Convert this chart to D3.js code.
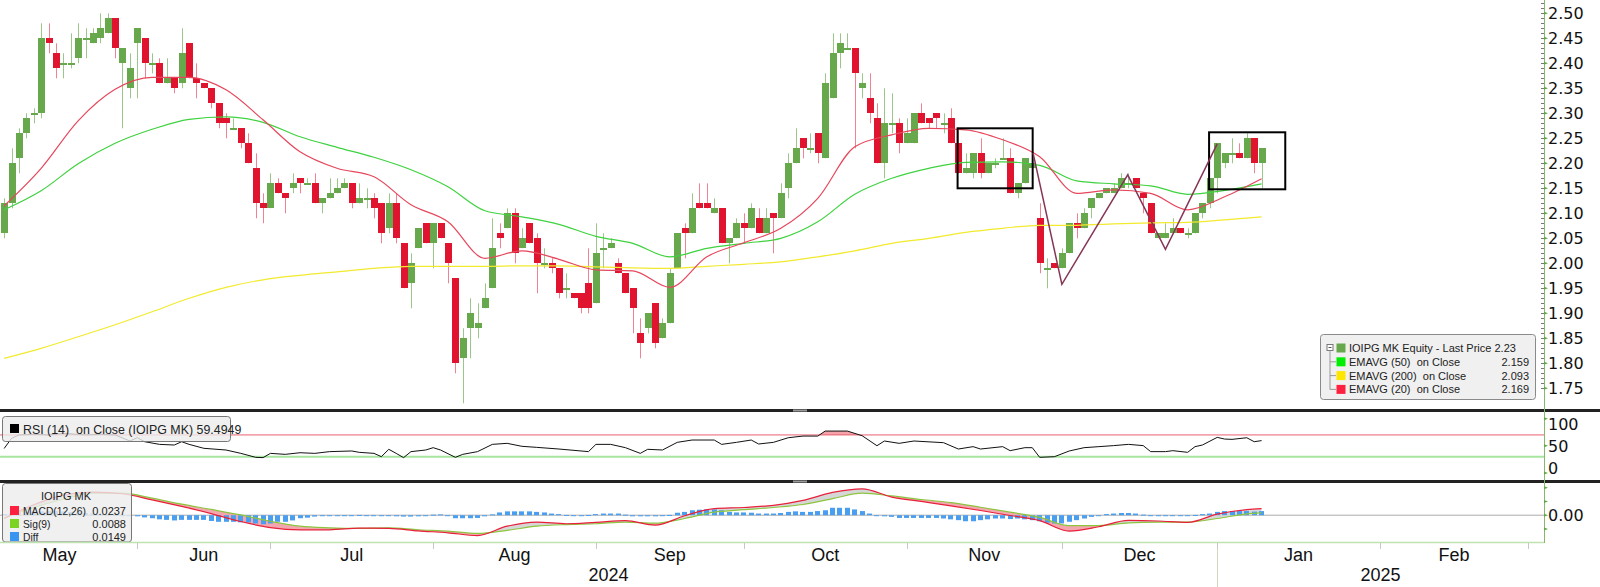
<!DOCTYPE html>
<html><head><meta charset="utf-8">
<script src="https://cdn.jsdelivr.net/npm/d3@7"></script>
<style>
body{margin:0;background:#fff;}
svg{display:block;}
text{white-space:pre;}
</style></head><body>
<svg id="chart" width="1600" height="587"></svg>
<script>
// ---------------- DATA ----------------
// candle index 0 = first visible trading day (early May 2024)
const open = [2.06,2.12,2.21,2.26,2.30,2.30,2.45,2.42,2.40,2.40, 2.41,2.45,2.44,2.45,2.46,2.49,2.40,2.35,2.44,2.45,
 2.40,2.40,2.36,2.37,2.36,2.44,2.37,2.36,2.35,2.32, 2.29,2.27,2.27,2.24,2.19,2.12,2.11,2.16,2.14,2.15,
 2.17,2.16,2.16,2.12,2.13,2.14,2.15,2.16,2.12,2.13, 2.13,2.12,2.07,2.12,2.04,1.96,2.03,2.08,2.04,2.08,
 2.04,1.97,1.81,1.87,1.87,1.91,1.95,2.06,2.07,2.10, 2.03,2.08,2.05,2.00,2.00,1.99,1.95,1.94,1.94,1.96,
 1.92,2.03,2.03,2.00,1.98,1.95,1.86,1.87,1.92,1.85, 1.88,1.99,2.07,2.06,2.12,2.12,2.10,2.11,2.04,2.05,
 2.08,2.07,2.09,2.06,2.10,2.09,2.15,2.20,2.25,2.23, 2.26,2.21,2.33,2.42,2.43,2.43,2.35,2.33,2.29,2.20,
 2.28,2.28,2.24,2.24,2.30,2.29,2.30,2.28,2.29,2.24, 2.18,2.18,2.22,2.18,2.20,2.21,2.21,2.14,2.16,2.19,
 2.09,1.99,2.00,1.99,2.02,2.08,2.07,2.11,2.13,2.14, 2.14,2.15,2.16,2.17,2.14,2.12,2.05,2.05,2.06,2.07,
 2.06,2.06,2.10,2.12,2.17,2.20,2.22,2.22,2.21,2.25, 2.20];
const high = [2.13,2.23,2.27,2.30,2.31,2.48,2.48,2.44,2.42,2.46, 2.48,2.47,2.47,2.50,2.50,2.49,2.43,2.42,2.47,2.45,
 2.42,2.41,2.41,2.37,2.47,2.44,2.40,2.36,2.35,2.32, 2.30,2.29,2.27,2.26,2.22,2.14,2.18,2.17,2.14,2.18,
 2.17,2.17,2.18,2.13,2.17,2.17,2.17,2.16,2.16,2.15, 2.14,2.12,2.14,2.14,2.04,2.02,2.07,2.08,2.08,2.08,
 2.04,1.97,1.87,1.93,1.92,1.96,2.09,2.08,2.11,2.11, 2.07,2.08,2.06,2.03,2.01,1.99,1.98,1.94,1.94,2.03,
 2.08,2.06,2.05,2.01,1.98,1.95,1.89,1.90,1.92,1.89, 1.99,2.06,2.08,2.14,2.16,2.16,2.13,2.11,2.05,2.09,
 2.10,2.12,2.11,2.11,2.10,2.16,2.22,2.27,2.25,2.26, 2.26,2.38,2.46,2.46,2.46,2.43,2.38,2.38,2.32,2.35,
 2.34,2.29,2.29,2.30,2.32,2.29,2.30,2.30,2.31,2.27, 2.22,2.22,2.25,2.20,2.21,2.25,2.23,2.16,2.21,2.21,
 2.12,2.01,2.00,2.03,2.08,2.10,2.11,2.13,2.14,2.15, 2.16,2.18,2.18,2.17,2.14,2.12,2.06,2.08,2.09,2.07,
 2.07,2.10,2.12,2.17,2.24,2.22,2.25,2.24,2.26,2.25, 2.23];
const low = [2.05,2.11,2.18,2.25,2.28,2.29,2.42,2.37,2.37,2.39, 2.40,2.41,2.44,2.44,2.46,2.41,2.27,2.33,2.33,2.37,
 2.38,2.36,2.36,2.34,2.35,2.37,2.33,2.35,2.31,2.27, 2.25,2.27,2.23,2.20,2.09,2.08,2.11,2.14,2.10,2.14,
 2.14,2.16,2.12,2.10,2.13,2.14,2.15,2.11,2.12,2.11, 2.09,2.04,2.06,2.04,1.95,1.91,2.03,2.04,1.99,2.05,
 1.96,1.78,1.72,1.81,1.85,1.91,1.95,2.03,2.07,2.00, 2.03,2.04,1.94,1.99,1.98,1.93,1.93,1.93,1.90,1.90,
 1.92,1.99,2.03,1.98,1.94,1.86,1.81,1.86,1.83,1.85, 1.88,1.99,2.01,2.06,2.11,2.11,2.10,2.04,2.00,2.05,
 2.04,2.07,2.06,2.06,2.02,2.09,2.13,2.20,2.21,2.22, 2.20,2.21,2.33,2.39,2.43,2.23,2.33,2.28,2.20,2.17,
 2.26,2.22,2.24,2.24,2.28,2.27,2.27,2.26,2.24,2.18, 2.18,2.17,2.17,2.18,2.19,2.21,2.14,2.13,2.16,2.19,
 1.98,1.95,1.99,1.99,2.02,2.05,2.07,2.09,2.13,2.14, 2.14,2.15,2.15,2.15,2.10,2.06,2.05,2.05,2.06,2.06,
 2.05,2.06,2.09,2.11,2.14,2.19,2.20,2.21,2.21,2.18, 2.15];
const close = [2.12,2.20,2.26,2.29,2.30,2.45,2.44,2.39,2.40,2.40, 2.45,2.45,2.46,2.47,2.49,2.43,2.43,2.39,2.47,2.40,
 2.40,2.36,2.37,2.35,2.42,2.37,2.36,2.35,2.32,2.28, 2.28,2.27,2.24,2.20,2.12,2.11,2.16,2.14,2.13,2.16,
 2.16,2.16,2.12,2.13,2.14,2.15,2.16,2.12,2.13,2.13, 2.11,2.06,2.12,2.05,1.95,2.00,2.07,2.04,2.08,2.05,
 2.00,1.80,1.85,1.90,1.88,1.93,2.03,2.05,2.10,2.02, 2.05,2.04,2.00,2.00,1.99,1.94,1.95,1.93,1.91,1.91,
 2.02,2.03,2.04,1.98,1.94,1.91,1.84,1.90,1.84,1.88, 1.98,2.06,2.06,2.11,2.11,2.11,2.11,2.04,2.05,2.08,
 2.07,2.11,2.06,2.09,2.09,2.14,2.20,2.23,2.23,2.23, 2.22,2.36,2.42,2.44,2.43,2.38,2.36,2.30,2.20,2.28,
 2.28,2.24,2.26,2.30,2.28,2.28,2.29,2.28,2.24,2.18, 2.19,2.22,2.18,2.20,2.20,2.21,2.14,2.16,2.21,2.20,
 2.00,1.99,1.99,2.02,2.08,2.07,2.10,2.13,2.14,2.15, 2.15,2.17,2.16,2.15,2.13,2.06,2.06,2.06,2.07,2.06,
 2.06,2.10,2.12,2.17,2.24,2.22,2.22,2.21,2.25,2.20, 2.23];

// moving averages sampled every 5 candles
const emaIdx = [0,5,10,15,20,25,30,35,40,45,50,55,60,65,70,75,80,85,90,95,100,105,110,115,120,125,130,135,140,145,150,155,160,165,170];
const ema20 = [2.115,2.19,2.285,2.348,2.372,2.372,2.347,2.287,2.223,2.19,2.173,2.117,2.083,2.01,2.025,2.008,1.987,1.985,1.952,2.013,2.041,2.07,2.13,2.233,2.257,2.27,2.267,2.247,2.213,2.14,2.147,2.14,2.107,2.133,2.169];
const ema50 = [2.107,2.145,2.199,2.24,2.268,2.288,2.293,2.282,2.253,2.232,2.212,2.187,2.153,2.105,2.093,2.078,2.054,2.04,2.013,2.03,2.04,2.05,2.083,2.138,2.17,2.19,2.202,2.203,2.196,2.165,2.159,2.155,2.138,2.146,2.159];
const ema200 = [1.81,1.83,1.853,1.877,1.903,1.93,1.952,1.967,1.976,1.983,1.99,1.994,1.994,1.994,1.995,1.995,1.993,1.991,1.99,1.994,1.998,2.003,2.013,2.025,2.04,2.05,2.062,2.07,2.076,2.076,2.079,2.081,2.082,2.087,2.093];

// RSI(14)
const rsiIdx = [0,1,2,4,6,8,11,13,15,17,18,19,21,23,24,25,27,30,32,34,35,36,38,40,42,44,47,48,50,51,52,53,54,55,57,58,59,61,62,64,66,68,70,72,75,79,80,82,84,86,87,89,91,93,96,97,99,101,102,104,106,108,110,111,114,116,118,119,121,123,127,129,131,132,135,136,138,139,140,142,144,146,148,150,152,154,155,157,158,160,161,162,164,165,166,168,169,170];
const rsiVal = [45,63.7,69.9,71,70,73,70,71,70,58.8,65,57.5,52.6,51.4,57.5,52.6,45.3,42.2,36,28.7,28.1,36,34.2,37.2,36,39.2,40.4,37.9,36,29.9,43.5,36,28.1,39.2,42.2,46.5,42.2,28.7,34.2,39.2,52.6,54.5,49,47.1,44,39.2,52.6,52.6,46.5,36,43.5,42.2,56.3,60.6,60.6,52.6,56.3,60.6,53.3,56.3,64.8,67.9,67.9,77.1,77.1,68.5,50.1,58.8,54.5,58.8,55.7,44,48.4,44,48.4,41,46.5,46.5,28.7,29.9,40.4,46.5,48.4,50.3,52.6,50.3,39.2,39.2,41,37.9,48.4,51.4,65.5,62.4,61.8,64.8,57.5,59.4949];

// MACD(12,26), Signal(9)
const macdIdx = [0,4,8,12,16,20,24,28,32,36,40,44,48,52,56,60,64,68,72,76,80,84,88,92,96,100,104,108,112,116,120,124,128,132,136,140,144,148,152,156,160,164,168,170];
const macdVal = [-0.012,0.038,0.073,0.084,0.078,0.056,0.032,0.006,-0.023,-0.045,-0.053,-0.053,-0.047,-0.048,-0.057,-0.064,-0.074,-0.04,-0.025,-0.031,-0.026,-0.02,-0.036,-0.002,0.024,0.028,0.036,0.054,0.083,0.096,0.066,0.05,0.034,0.017,-0.001,-0.02,-0.058,-0.042,-0.019,-0.021,-0.026,0.004,0.02,0.0237];
const sigVal = [-0.01,0.028,0.058,0.08,0.08,0.062,0.04,0.021,0.001,-0.022,-0.04,-0.046,-0.048,-0.046,-0.053,-0.058,-0.066,-0.055,-0.04,-0.034,-0.031,-0.025,-0.029,-0.012,0.011,0.02,0.028,0.039,0.06,0.08,0.07,0.057,0.046,0.029,0.011,-0.008,-0.038,-0.038,-0.028,-0.025,-0.025,-0.012,0.005,0.0088];
const diffVal = [0.004,0.007,0.010,0.012,0.013,0.014,0.015,0.015,0.014,0.012, 0.010,0.008,0.006,0.004,0.002,0.001,-0.001,-0.002,-0.004,-0.008,
 -0.011,-0.015,-0.017,-0.019,-0.017,-0.017,-0.017,-0.017,-0.021,-0.024, -0.024,-0.024,-0.026,-0.026,-0.030,-0.033,-0.030,-0.024,-0.024,-0.019,
 -0.011,-0.009,-0.005,-0.003,-0.002,-0.001,0,0,0.001,0, 0,-0.001,-0.002,-0.004,-0.005,-0.005,-0.004,-0.001,0.002,0.003,
 -0.002,-0.011,-0.011,-0.011,-0.010,-0.004,0.003,0.010,0.014,0.014, 0.014,0.014,0.012,0.010,0.006,0.004,0.001,0,0,0.001,
 0.004,0.006,0.006,0.006,0.002,-0.004,-0.004,-0.004,-0.004,-0.003, 0.001,0.009,0.012,0.018,0.020,0.021,0.021,0.018,0.012,0.010,
 0.010,0.009,0.006,0.006,0.006,0.008,0.012,0.014,0.012,0.012, 0.015,0.018,0.027,0.027,0.027,0.021,0.015,0.006,0,-0.004,
 -0.006,-0.010,-0.010,-0.010,-0.010,-0.010,-0.010,-0.012,-0.015,-0.018, -0.022,-0.022,-0.018,-0.015,-0.012,-0.012,-0.014,-0.012,-0.015,-0.018,
 -0.022,-0.027,-0.030,-0.030,-0.024,-0.018,-0.012,-0.006,-0.002,0.004, 0.006,0.008,0.008,0.006,0.002,0,-0.001,-0.001,-0.001,0,
 0,0.001,0.004,0.006,0.012,0.015,0.015,0.015,0.015,0.013, 0.0149];

// annotations
const boxStart = [128.9, 162.9], boxEnd = [139.05, 173.2], boxTop = [2.27, 2.262], boxBottom = [2.15, 2.148];
const trendIdx = [139.1, 143, 151.9, 157, 164];
const trendVal = [2.221, 1.958, 2.177, 2.028, 2.239];

// axis labels
const monthNames = ["May","Jun","Jul","Aug","Sep","Oct","Nov","Dec","Jan","Feb"];
const monthStart = [-3,18,36,58,80,100,122,143,164,186,206];
const yearNames = ["2024","2025"];
const yearBreak = 164;
const priceTicks = [1.75,1.80,1.85,1.90,1.95,2.00,2.05,2.10,2.15,2.20,2.25,2.30,2.35,2.40,2.45,2.50];
const rsiTicks = [0,50,100];
const macdTicks = [-0.05,0,0.05,0.10];

// ---------------- DRAW ----------------
const svg = d3.select("#chart");
const axisX = 1544;
const x = d3.scaleLinear().domain([-0.561, 208.18]).range([0, axisX]);
const yP = d3.scaleLinear().domain([1.75, 2.50]).range([388.3, 13.3]);
const yR = d3.scaleLinear().domain([0, 100]).range([472.9, 418.65]);
const yM = d3.scaleLinear().domain([-0.05, 0.10]).range([528.95, 487.7]);
const defs = svg.append("defs");
function clip(id, y0, h){ defs.append("clipPath").attr("id",id).append("rect").attr("x",0).attr("y",y0).attr("width",axisX).attr("height",h); }
clip("clipP",0,409); clip("clipR",412,68); clip("clipM",483,59.3);
clip("clipR70",412,yR(70)-412); clip("clipR30",yR(30),480-yR(30));

svg.append("rect").attr("width",1600).attr("height",587).attr("fill","#fff");

// ---- price panel
const gP = svg.append("g").attr("clip-path","url(#clipP)");
const candles = close.map((c,i)=>({i, o:open[i], h:high[i], l:low[i], c}));
const upC = "#67a84c", dnC = "#e0142f";
gP.selectAll("line.wick").data(candles).join("line").attr("class","wick")
  .attr("x1",d=>Math.round(x(d.i))+0.5).attr("x2",d=>Math.round(x(d.i))+0.5)
  .attr("y1",d=>yP(d.h)).attr("y2",d=>yP(d.l))
  .attr("stroke",d=>d.c>=d.o?"#9cc58a":"#ee8493").attr("stroke-width",1);
const bw = 7;
gP.selectAll("rect.body").data(candles).join("rect").attr("class","body")
  .attr("x",d=>Math.round(x(d.i))-3).attr("width",bw)
  .attr("y",d=>Math.round(yP(Math.max(d.o,d.c))))
  .attr("height",d=>Math.max(1.5, Math.round(Math.abs(yP(d.o)-yP(d.c)))))
  .attr("fill",d=>d.c>=d.o?upC:dnC).attr("shape-rendering","crispEdges");

const emaLine = d3.line().x(d=>x(d[0])).y(d=>yP(d[1])).curve(d3.curveMonotoneX);
[[ema200,"#f2ea2e"],[ema50,"#3fd23f"],[ema20,"#e6475c"]].forEach(([vals,col])=>{
  gP.append("path").datum(emaIdx.map((d,k)=>[d,vals[k]])).attr("d",emaLine)
    .attr("fill","none").attr("stroke",col).attr("stroke-width",1.2);
});
boxStart.forEach((s,k)=>{
  gP.append("rect").attr("x",x(s)).attr("y",yP(boxTop[k])).attr("width",x(boxEnd[k])-x(s))
    .attr("height",yP(boxBottom[k])-yP(boxTop[k])).attr("fill","none").attr("stroke","#000").attr("stroke-width",2);
});
gP.append("path").datum(trendIdx.map((d,k)=>[d,trendVal[k]]))
  .attr("d",d3.line().x(d=>x(d[0])).y(d=>yP(d[1]))).attr("fill","none").attr("stroke","#863556").attr("stroke-width",1.5);

// main legend
const lg = svg.append("g").attr("font-family","'Liberation Sans', Arial, sans-serif").attr("font-size",11).attr("fill","#222");
lg.append("rect").attr("x",1320.5).attr("y",334.5).attr("width",215).attr("height",65).attr("rx",3)
  .attr("fill","#f0f0f0").attr("stroke","#8a8a8a");
const legRows = [
  {col:upC, label:"IOIPG MK Equity - Last Price " + close[close.length-1].toFixed(2), val:""},
  {col:"#00ee00", label:"EMAVG (50)  on Close", val:ema50[ema50.length-1].toFixed(3)},
  {col:"#ffe600", label:"EMAVG (200)  on Close", val:ema200[ema200.length-1].toFixed(3)},
  {col:"#ff2040", label:"EMAVG (20)  on Close", val:ema20[ema20.length-1].toFixed(3)}
];
lg.append("rect").attr("x",1327).attr("y",344.5).attr("width",6).attr("height",6).attr("fill","#fff").attr("stroke","#777");
lg.append("line").attr("x1",1328.5).attr("x2",1331.5).attr("y1",347.5).attr("y2",347.5).attr("stroke","#555");
lg.append("line").attr("x1",1330).attr("x2",1330).attr("y1",350.5).attr("y2",389.5).attr("stroke","#999");
legRows.forEach((r,k)=>{
  const cy = 348 + k*13.8;
  if(k>0) lg.append("line").attr("x1",1330).attr("x2",1336).attr("y1",cy).attr("y2",cy).attr("stroke","#999");
  lg.append("rect").attr("x",1336.5).attr("y",cy-4.5).attr("width",9).attr("height",9).attr("fill",r.col);
  lg.append("text").attr("x",1349).attr("y",cy+4).text(r.label);
  if(r.val) lg.append("text").attr("x",1529).attr("y",cy+4).attr("text-anchor","end").text(r.val);
});

// ---- RSI panel
const gR = svg.append("g").attr("clip-path","url(#clipR)");
const rsiPts = rsiIdx.map((d,k)=>[d,rsiVal[k]]);
gR.append("path").datum(rsiPts).attr("clip-path","url(#clipR70)")
  .attr("d",d3.area().x(d=>x(d[0])).y0(yR(70)).y1(d=>yR(d[1]))).attr("fill","#f6a3ab");
gR.append("path").datum(rsiPts).attr("clip-path","url(#clipR30)")
  .attr("d",d3.area().x(d=>x(d[0])).y0(yR(30)).y1(d=>yR(d[1]))).attr("fill","#b6ebb0");
gR.append("line").attr("x1",0).attr("x2",axisX).attr("y1",yR(70)).attr("y2",yR(70)).attr("stroke","#e8606e").attr("stroke-width",1);
gR.append("line").attr("x1",0).attr("x2",axisX).attr("y1",yR(30)).attr("y2",yR(30)).attr("stroke","#a8e6a0").attr("stroke-width",2);
gR.append("path").datum(rsiPts).attr("d",d3.line().x(d=>x(d[0])).y(d=>yR(d[1])))
  .attr("fill","none").attr("stroke","#111").attr("stroke-width",1);
const rl = svg.append("g").attr("font-family","'Liberation Sans', Arial, sans-serif").attr("font-size",12.4).attr("fill","#222");
rl.append("rect").attr("x",2.5).attr("y",416.5).attr("width",228).attr("height",25).attr("rx",3)
  .attr("fill","#ececec").attr("fill-opacity",0.8).attr("stroke","#777");
rl.append("rect").attr("x",10).attr("y",424).attr("width",9).attr("height",9).attr("fill","#000");
rl.append("text").attr("x",23).attr("y",433.5).text("RSI (14)  on Close (IOIPG MK) " + rsiVal[rsiVal.length-1].toFixed(4));

// ---- MACD panel
const gM = svg.append("g").attr("clip-path","url(#clipM)");
const mPts = macdIdx.map((d,k)=>({i:d, m:macdVal[k], s:sigVal[k]}));
const cv = d3.curveMonotoneX;
defs.append("clipPath").attr("id","clipAboveM").append("path").datum(mPts)
  .attr("d",d3.area().x(d=>x(d.i)).y0(0).y1(d=>yM(d.m)).curve(cv));
defs.append("clipPath").attr("id","clipBelowM").append("path").datum(mPts)
  .attr("d",d3.area().x(d=>x(d.i)).y0(600).y1(d=>yM(d.m)).curve(cv));
gM.append("line").attr("x1",0).attr("x2",axisX).attr("y1",yM(0)).attr("y2",yM(0)).attr("stroke","#aaa");
gM.append("path").datum(mPts).attr("clip-path","url(#clipAboveM)")
  .attr("d",d3.area().x(d=>x(d.i)).y0(600).y1(d=>yM(d.s)).curve(cv)).attr("fill","#f4a6ae");
gM.append("path").datum(mPts).attr("clip-path","url(#clipBelowM)")
  .attr("d",d3.area().x(d=>x(d.i)).y0(0).y1(d=>yM(d.s)).curve(cv)).attr("fill","#d6d6d6");
gM.selectAll("rect.hist").data(diffVal).join("rect").attr("class","hist")
  .attr("x",(d,i)=>Math.round(x(i)-2.5)).attr("width",5)
  .attr("y",d=>Math.min(yM(d),yM(0))).attr("height",d=>Math.max(1,Math.abs(yM(d)-yM(0))))
  .attr("fill","#4a9ef0");
gM.append("path").datum(mPts).attr("d",d3.line().x(d=>x(d.i)).y(d=>yM(d.s)).curve(cv))
  .attr("fill","none").attr("stroke","#8cc63f").attr("stroke-width",1.2);
gM.append("path").datum(mPts).attr("d",d3.line().x(d=>x(d.i)).y(d=>yM(d.m)).curve(cv))
  .attr("fill","none").attr("stroke","#e8203a").attr("stroke-width",1.2);
const ml = svg.append("g").attr("font-family","'Liberation Sans', Arial, sans-serif").attr("font-size",11).attr("fill","#222");
ml.append("rect").attr("x",2.5).attr("y",483.5).attr("width",129).attr("height",58.5).attr("rx",3)
  .attr("fill","#ececec").attr("fill-opacity",0.8).attr("stroke","#777");
ml.append("text").attr("x",66).attr("y",500).attr("text-anchor","middle").text("IOIPG MK");
const mRows = [["#ff2040","MACD(12,26)",macdVal[macdVal.length-1]],["#7dd321","Sig(9)",sigVal[sigVal.length-1]],["#3a95f0","Diff",diffVal[diffVal.length-1]]];
mRows.forEach((r,k)=>{
  const cy = 510.5 + k*13;
  ml.append("rect").attr("x",10).attr("y",cy-4.5).attr("width",9).attr("height",9).attr("fill",r[0]);
  ml.append("text").attr("x",23).attr("y",cy+4).attr("font-size",10.3).text(r[1]);
  ml.append("text").attr("x",126).attr("y",cy+4).attr("text-anchor","end").text(r[2].toFixed(4));
});

// ---- separators and frame
svg.append("rect").attr("x",0).attr("y",409).attr("width",1600).attr("height",3).attr("fill","#222");
svg.append("rect").attr("x",0).attr("y",480).attr("width",1600).attr("height",3).attr("fill","#222");
[409,480].forEach(yy=>svg.append("rect").attr("x",793).attr("y",yy+0.5).attr("width",14).attr("height",2).attr("fill","#9a9a9a"));
svg.append("line").attr("x1",0).attr("x2",axisX).attr("y1",542.5).attr("y2",542.5).attr("stroke","#bfe3b0").attr("stroke-width",1.5);
svg.append("line").attr("x1",axisX+0.5).attr("x2",axisX+0.5).attr("y1",0).attr("y2",543).attr("stroke","#86b86b").attr("stroke-width",1);

// ---- right axis
const ax = svg.append("g").attr("font-family","'DejaVu Sans', Verdana, sans-serif").attr("font-size",16).attr("fill","#111");
d3.range(175,253).forEach(c=>{ const yy=Math.round(yP(c/100))+0.5; if(yy>2&&yy<407) ax.append("line").attr("x1",axisX-3).attr("x2",axisX).attr("y1",yy).attr("y2",yy).attr("stroke","#777"); });
function majorTick(yy){ ax.append("path").attr("d",`M${axisX},${yy-1.5}L${axisX+4},${yy}L${axisX},${yy+1.5}Z`).attr("fill","#5fa845"); }
priceTicks.forEach(p=>{ majorTick(yP(p)); ax.append("text").attr("x",1548).attr("y",yP(p)).attr("dy","0.36em").text(p.toFixed(2)); });
rsiTicks.forEach(v=>{ majorTick(yR(v)); ax.append("text").attr("x",1548).attr("y",Math.max(424,Math.min(468,yR(v)))).attr("dy","0.36em").text(String(v)); });
macdTicks.forEach(v=>{ majorTick(yM(v)); if(v===0) ax.append("text").attr("x",1548).attr("y",yM(v)).attr("dy","0.36em").text(v.toFixed(2)); });

// ---- bottom time axis
const bx = svg.append("g").attr("font-family","'Liberation Sans', Arial, sans-serif").attr("font-size",18).attr("fill","#111");
monthNames.forEach((m,k)=>{
  const a = x(monthStart[k]), b = x(monthStart[k+1]);
  bx.append("text").attr("x",(a+b)/2).attr("y",561).attr("text-anchor","middle").text(m);
});
monthStart.slice(1).forEach(s=>{ const xx=Math.round(x(s))+0.5; bx.append("line").attr("x1",xx).attr("x2",xx).attr("y1",543).attr("y2",549).attr("stroke","#c8c8c8"); });
const yb = Math.round(x(yearBreak))+0.5;
bx.append("line").attr("x1",yb).attr("x2",yb).attr("y1",549).attr("y2",587).attr("stroke","#d6d6c0");
const yEdges = [0, x(yearBreak), axisX];
yearNames.forEach((t,k)=>bx.append("text").attr("x",(yEdges[k]+yEdges[k+1])/2).attr("y",581).attr("text-anchor","middle").text(t));
</script>
</body></html>
